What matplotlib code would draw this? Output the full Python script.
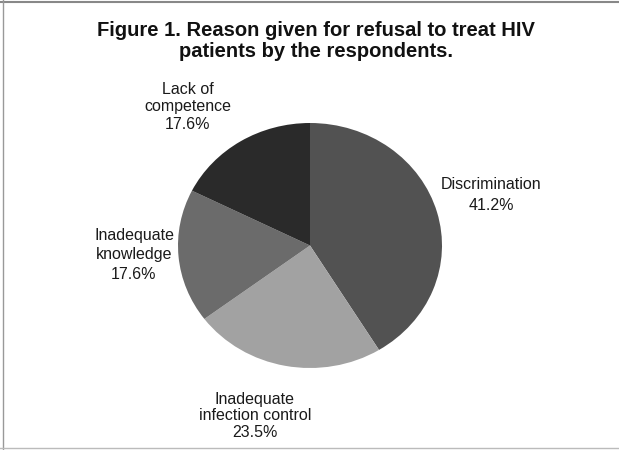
import matplotlib.pyplot as plt
from matplotlib.lines import Line2D

# -------------------------------
# Data
# -------------------------------
reasons = ["Discrimination", "Inadequate\ninfection control",
           "Inadequate\nknowledge", "Lack of\ncompetence"]
shares = [41.2, 23.5, 17.6, 17.6]
slice_colors = ["#525252", "#a2a2a2", "#6b6b6b", "#2a2a2a"]

TITLE = "Figure 1. Reason given for refusal to treat HIV\npatients by the respondents."

# label anchor points in figure pixels (x, y from top)
label_pos = [(491, 195), (255, 416), (134, 255), (188, 107)]
label_spacing = [1.45, 1.1, 1.35, 1.2]

W, H = 619, 450

fig = plt.figure(figsize=(W / 100, H / 100), dpi=100)
fig.patch.set_facecolor("white")

# -------------------------------
# Pie (slightly oval, like the scan)
# -------------------------------
ax = fig.add_axes([178 / W, 1 - 368 / H, 264 / W, 245 / H])
ax.pie(shares, colors=slice_colors, startangle=90, counterclock=False,
       radius=1, wedgeprops=dict(linewidth=0))
ax.set_aspect("auto")
ax.set_xlim(-1, 1)
ax.set_ylim(-1, 1)
ax.axis("off")

# -------------------------------
# Labels
# -------------------------------
for name, val, (px, py), ls in zip(reasons, shares, label_pos, label_spacing):
    fig.text(px / W, 1 - py / H, f"{name}\n{val:.1f}%",
             ha="center", va="center", fontsize=11.5,
             family="Liberation Sans", color="#1a1a1a", linespacing=ls)

fig.text(316 / W, 1 - 41 / H, TITLE, ha="center", va="center",
         fontsize=14.5, fontweight="bold", family="Liberation Sans",
         color="#111111", linespacing=1.15)

# scanned frame edges
fig.add_artist(Line2D([0, 1], [1 - 2 / H, 1 - 2 / H], transform=fig.transFigure,
                      color="#888888", linewidth=1.5))
fig.add_artist(Line2D([3 / W, 3 / W], [0, 1], transform=fig.transFigure,
                      color="#999999", linewidth=1))
fig.add_artist(Line2D([0, 1], [1 - 448 / H, 1 - 448 / H], transform=fig.transFigure,
                      color="#bbbbbb", linewidth=1))

fig.savefig("out.png", dpi=100)
